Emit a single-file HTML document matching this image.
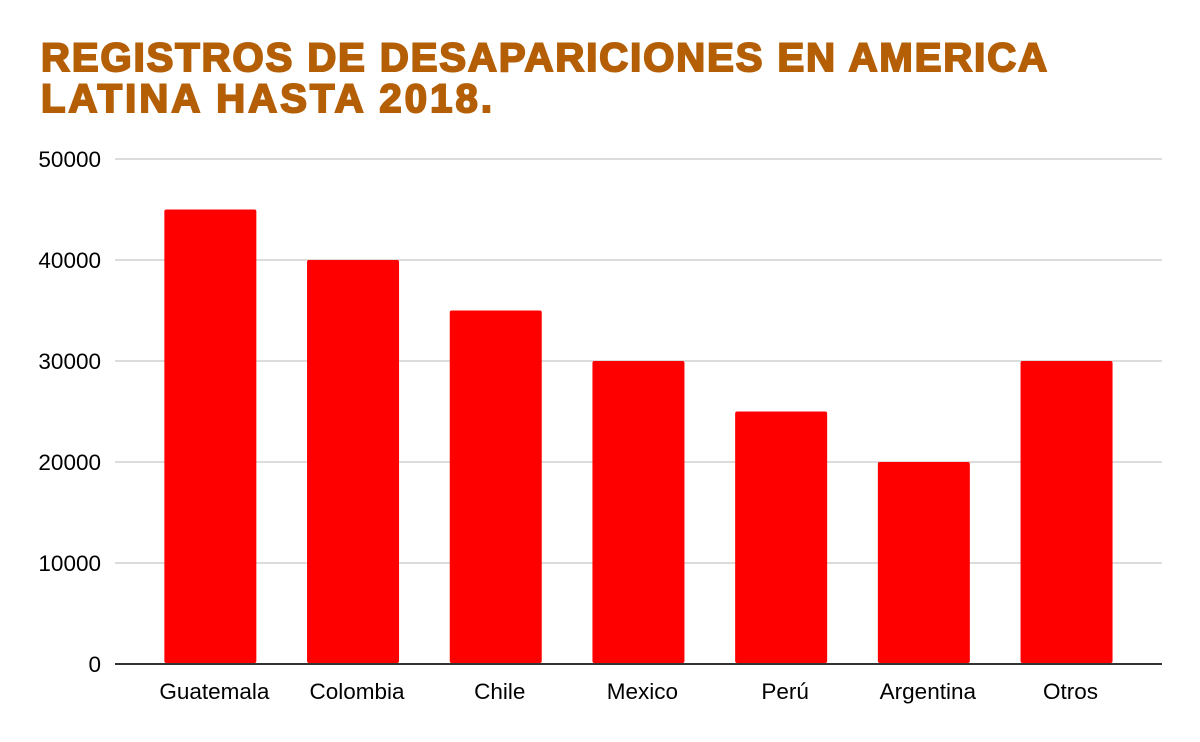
<!DOCTYPE html>
<html><head><meta charset="utf-8"><style>
html,body{margin:0;padding:0;background:#fff;}
svg{display:block;}
</style></head><body>
<svg id="chart" width="1200" height="742" xmlns="http://www.w3.org/2000/svg">
<g font-family="Liberation Sans, sans-serif" font-weight="bold" font-size="40" fill="#b45f06" stroke="#b45f06" stroke-width="2">
<text x="41" y="71" textLength="1006" lengthAdjust="spacing">REGISTROS DE DESAPARICIONES EN AMERICA</text>
<text x="41" y="112" textLength="451" lengthAdjust="spacing">LATINA HASTA 2018.</text>
</g>
<g id="grid"></g>
<g id="ylabels"></g>
<g id="bars"></g>
<g id="xlabels"></g>
</svg>
<script>
const categories = ["Guatemala","Colombia","Chile","Mexico","Perú","Argentina","Otros"];
const values = [45000,40000,35000,30000,25000,20000,30000];
const yTicks = [0,10000,20000,30000,40000,50000];
const yTickLabels = ["0","10000","20000","30000","40000","50000"];

const NS="http://www.w3.org/2000/svg";
const y0=664, yTop=159, yMax=50000;
const yScale=v=>y0-(v/yMax)*(y0-yTop);
const bandStart=139, bandW=142.7, barW=92;
const xCenter=i=>bandStart+bandW*(i+0.5);
function mk(tag,attrs,parent){const e=document.createElementNS(NS,tag);for(const k in attrs)e.setAttribute(k,attrs[k]);parent.appendChild(e);return e;}
const grid=document.getElementById('grid'),yl=document.getElementById('ylabels'),bars=document.getElementById('bars'),xl=document.getElementById('xlabels');
yTicks.forEach((t,i)=>{
  const y=yScale(t);
  const l=mk('line',{x1:115,x2:1162,y1:y,y2:y,stroke:i===0?'#333':'#c8c8c8','stroke-width':i===0?2:1.2},grid);
  
  
  const tx=mk('text',{x:101,y:y+8,'text-anchor':'end','font-family':'Liberation Sans, sans-serif','font-size':22.5,fill:'#000'},yl);
  tx.textContent=yTickLabels[i];
  
  
});
categories.forEach((c,i)=>{
  const top=yScale(values[i]);
  const r=mk('rect',{x:xCenter(i)-barW/2,y:top,width:barW,height:y0-1-top,fill:'#ff0000',rx:2},bars);
  
  
  const tx=mk('text',{x:xCenter(i)+4,y:699,'text-anchor':'middle','font-family':'Liberation Sans, sans-serif','font-size':22.5,fill:'#000'},xl);
  tx.textContent=c;
  
  
});
</script>
</body></html>
